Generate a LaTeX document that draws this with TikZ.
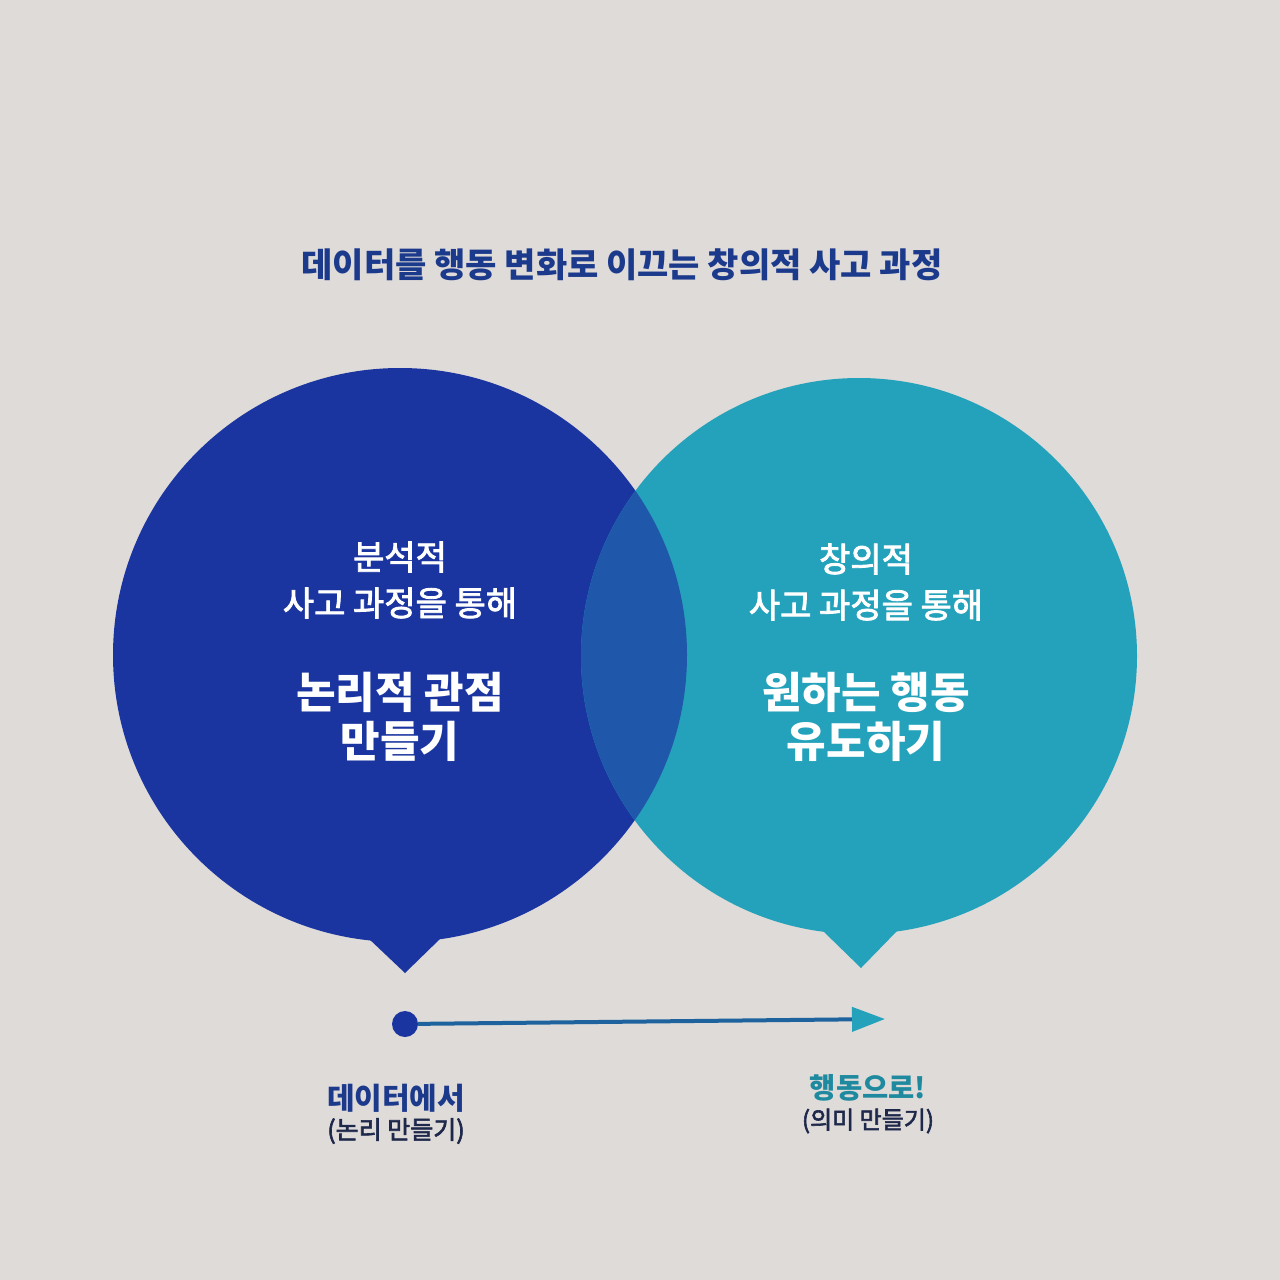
\documentclass[tikz,border=0pt]{standalone}
\usepackage{fontspec}
\setmainfont{Noto Sans CJK KR}
\newfontfamily\medfont[FakeBold=2.5]{Noto Sans CJK KR}
\usepackage{tikz}
\usetikzlibrary{arrows.meta}

\definecolor{paper}{RGB}{223,219,216}
\definecolor{navy}{RGB}{28,58,140}
\definecolor{leftblue}{RGB}{26,53,160}
\definecolor{rightteal}{RGB}{37,162,187}
\definecolor{lenscol}{RGB}{31,88,170}
\definecolor{linecol}{RGB}{30,98,158}
\definecolor{darktext}{RGB}{30,40,75}

\tikzset{
  bubble/.style={circle,inner sep=0pt,minimum size=#1},
  smalltxt/.style={white,align=center,font=\medfont\fontsize{34}{46}\selectfont},
  bigtxt/.style={white,align=center,font=\bfseries\fontsize{43}{49}\selectfont}
}

\begin{document}
\begin{tikzpicture}[x=1pt,y=-1pt]
\fill[paper] (0,0) rectangle (1280,1280);
\node[navy,font=\bfseries\fontsize{34}{40}\selectfont] (title) at (622,265) {데이터를 행동 변화로 이끄는 창의적 사고 과정};
% two speech bubbles
\node[bubble=574pt,fill=leftblue] (logic) at (400,655) {};
\fill[leftblue] (367,937) -- (405,973) -- (442,937) -- cycle;
\node[bubble=556pt,fill=rightteal] (action) at (859,656) {};
\fill[rightteal] (823,931) -- (861,968) -- (897,931) -- cycle;
\begin{scope}
\clip (logic.center) circle[radius=287pt];
\fill[lenscol] (action.center) circle[radius=278pt];
\end{scope}
\node[smalltxt] (lsmall) at (400,580) {분석적\\사고 과정을 통해};
\node[bigtxt] (lbig) at (400,717) {논리적 관점\\만들기};
\node[smalltxt] (rsmall) at (866,582) {창의적\\사고 과정을 통해};
\node[bigtxt] (rbig) at (866,717) {원하는 행동\\유도하기};
% arrow from data to action
\node[circle,fill=leftblue,inner sep=0pt,minimum size=26pt] (start) at (405,1024) {};
\coordinate (finish) at (885,1019);
\draw[linecol,line width=4pt,-{Triangle[length=33pt,width=24pt,color=rightteal]}] (start) -- (finish);
\node[navy,font=\bfseries\fontsize{30}{34}\selectfont] (from) at (396,1098) {데이터에서};
\node[darktext,font=\medfont\fontsize{25}{30}\selectfont] (fromsub) at (396,1131) {(논리 만들기)};
\node[rightteal!85!black,font=\bfseries\fontsize{28.5}{34}\selectfont] (to) at (868,1088) {행동으로!};
\node[darktext,font=\medfont\fontsize{24}{30}\selectfont] (tosub) at (868,1121) {(의미 만들기)};
\end{tikzpicture}
\end{document}
